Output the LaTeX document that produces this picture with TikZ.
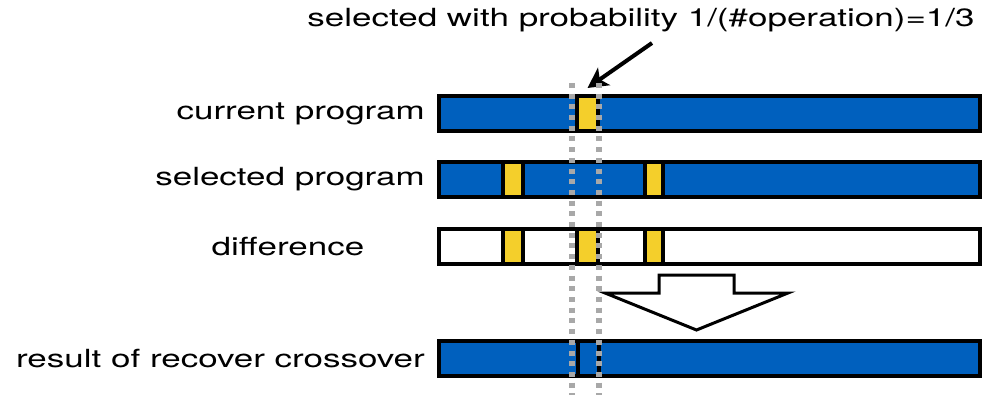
\documentclass[tikz,border=0pt]{standalone}
\usepackage{fontspec}
\setmainfont{TeX Gyre Heros}
\usetikzlibrary{arrows.meta}

\definecolor{opblue}{RGB}{0,96,190}
\definecolor{opyellow}{RGB}{244,207,43}
\definecolor{guidegray}{RGB}{168,168,168}

% labels are set a little wider than the font's natural width
\newcommand{\widetxt}[1]{\scalebox{1.4}[1]{#1}}

\tikzset{
  lbl/.style={inner sep=0pt, font=\fontsize{25}{30}\selectfont},
  bar/.style={draw=black, line width=4pt, inner sep=0pt, outer sep=0pt,
              minimum width=541pt, minimum height=35pt},
  progbar/.style={bar, fill=opblue},
  diffbar/.style={bar, fill=white},
  op/.style={draw=black, line width=4pt, inner sep=0pt, outer sep=0pt,
             minimum height=35pt, fill=opyellow},
  recop/.style={op, fill=opblue},
  pointer/.style={line width=4pt, -{Stealth[length=20pt,width=21pt,inset=5pt]}},
  guide/.style={draw=guidegray, line width=6pt, dash pattern=on 5pt off 5.7pt},
  bigarrow/.style={draw=black, line width=3pt, fill=white, line join=miter}
}

\begin{document}
\begin{tikzpicture}[x=1pt, y=-1pt]
  \useasboundingbox (0,0) rectangle (984,395);

  % row labels
  \node[lbl, anchor=center] (title) at (641,20)
    {\widetxt{selected with probability 1/(\#operation)=1/3}};
  \node[lbl, anchor=east] (lcur) at (425,113.5) {\widetxt{current program}};
  \node[lbl, anchor=east] (lsel) at (425,179.5) {\widetxt{selected program}};
  \node[lbl, anchor=center] (ldiff) at (288,246.5) {\widetxt{difference}};
  \node[lbl, anchor=east] (lres) at (425,358.5) {\widetxt{result of recover crossover}};

  % programs as bars of operations
  \node[progbar] (cur) at (709.5,113.5) {};
  \node[op, minimum width=21pt] (cursel) at (587.5,113.5) {};

  \node[progbar] (sel) at (709.5,179.5) {};
  \node[op, minimum width=20pt] (sela) at (513,179.5) {};
  \node[op, minimum width=18pt] (selb) at (654,179.5) {};

  \node[diffbar] (diff) at (709.5,246.5) {};
  \node[op, minimum width=20pt] (diffa) at (513,246.5) {};
  \node[op, minimum width=21pt] (diffb) at (587.5,246.5) {};
  \node[op, minimum width=18pt] (diffc) at (654,246.5) {};

  \node[progbar] (res) at (709.5,358.5) {};
  \node[recop, minimum width=21pt] (resop) at (588.5,358.5) {};

  % pointer to the chosen operation
  \coordinate (ptr) at (652,43);
  \draw[pointer] (ptr) -- ([yshift=8pt]cursel.north);

  % hollow arrow between difference and result
  \draw[bigarrow] (659,275) -- (734,275) -- (734,293) -- (788,293)
    -- (696.5,330) -- (605,293) -- (659,293) -- cycle;

  % guide lines marking the chosen operation
  \coordinate (gla) at (572,83);
  \coordinate (glb) at (572,395);
  \coordinate (gra) at (599,83);
  \coordinate (grb) at (599,395);
  \draw[guide] (gla) -- (glb);
  \draw[guide] (gra) -- (grb);
\end{tikzpicture}
\end{document}
